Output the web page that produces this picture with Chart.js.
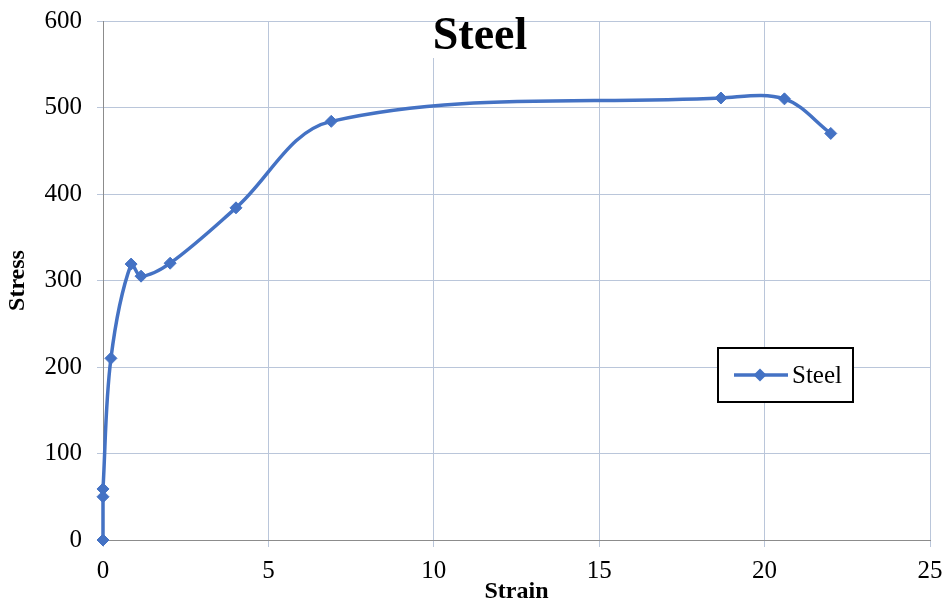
<!DOCTYPE html>
<html>
<head>
<meta charset="utf-8">
<script src="https://cdn.jsdelivr.net/npm/chart.js@4"></script>
<style>
html,body{margin:0;padding:0;background:#fff;}
#wrap{width:945px;height:604px;position:relative;}
</style>
</head>
<body>
<div id="wrap"><canvas id="c" width="945" height="604"></canvas></div>
<script>
const chartTitle = "Steel";
const seriesName = "Steel";
const xTitle = "Strain";
const yTitle = "Stress";
const strain = [0, 0, 0, 0.24, 0.85, 1.15, 2.03, 4.02, 6.9, 18.68, 20.6, 22];
const stress = [0, 50, 59, 210, 319, 305, 320, 384, 484, 511, 510, 470];
const xTicks = [0, 5, 10, 15, 20, 25];
const yTicks = [0, 100, 200, 300, 400, 500, 600];

const FONT = "'Liberation Serif','Times New Roman',serif";
const BLUE = '#4472C4';
const GRID = '#BAC6DA';
const AXIS = '#8C8C8C';

const points = strain.map((x, i) => ({x: x, y: stress[i]}));

const overlay = {
  id: 'overlay',
  afterDraw(chart) {
    const ctx = chart.ctx;
    ctx.save();
    // title
    ctx.fillStyle = '#fff';
    ctx.fillRect(424, 22, 112, 36);
    ctx.fillStyle = '#000';
    ctx.font = "bold 46px " + FONT;
    ctx.textAlign = 'center';
    ctx.textBaseline = 'middle';
    ctx.fillText(chartTitle, 480, 37);
    // legend
    const lx = 718, ly = 348, lw = 135, lh = 54;
    ctx.fillStyle = '#fff';
    ctx.fillRect(lx, ly, lw, lh);
    ctx.strokeStyle = '#000';
    ctx.lineWidth = 2;
    ctx.strokeRect(lx, ly, lw, lh);
    const ds = chart.data.datasets[0];
    const cy = ly + lh / 2;
    ctx.strokeStyle = ds.borderColor;
    ctx.lineWidth = ds.borderWidth;
    ctx.beginPath();
    ctx.moveTo(734, cy);
    ctx.lineTo(788, cy);
    ctx.stroke();
    ctx.fillStyle = ds.pointBackgroundColor;
    ctx.beginPath();
    ctx.moveTo(760, cy - 6.5);
    ctx.lineTo(766.5, cy);
    ctx.lineTo(760, cy + 6.5);
    ctx.lineTo(753.5, cy);
    ctx.closePath();
    ctx.fill();
    ctx.fillStyle = '#000';
    ctx.font = "25px " + FONT;
    ctx.textAlign = 'left';
    ctx.textBaseline = 'middle';
    ctx.fillText(ds.label, 792, cy + 1);
    ctx.restore();
  }
};

new Chart(document.getElementById('c'), {
  type: 'line',
  data: {
    datasets: [{
      label: seriesName,
      data: points,
      borderColor: BLUE,
      backgroundColor: BLUE,
      pointBackgroundColor: BLUE,
      pointBorderColor: BLUE,
      borderWidth: 3.5,
      pointStyle: 'rectRot',
      pointRadius: 6,
      pointBorderWidth: 1,
      tension: 0.35,
      fill: false,
      clip: false
    }]
  },
  options: {
    responsive: false,
    animation: false,
    devicePixelRatio: 1,
    layout: {padding: {top: 21, right: 15, left: 0, bottom: 0}},
    plugins: {
      legend: {display: false},
      title: {display: false},
      tooltip: {enabled: false}
    },
    scales: {
      x: {
        type: 'linear',
        min: 0, max: 25,
        afterBuildTicks(scale) { scale.ticks = xTicks.map(v => ({value: v})); },
        afterFit(scale) { scale.height = 64; scale.paddingLeft = 0; scale.paddingRight = 0; },
        grid: {color: GRID, lineWidth: 1, tickLength: 7, drawTicks: true},
        border: {color: AXIS, width: 1},
        ticks: {color: '#000', font: {family: FONT, size: 25}, padding: 9, maxRotation: 0},
        title: {display: true, text: xTitle, color: '#000', font: {family: FONT, size: 24, weight: 'bold', lineHeight: 1}, padding: {top: 0, bottom: 0}}
      },
      y: {
        type: 'linear',
        min: 0, max: 600,
        afterBuildTicks(scale) { scale.ticks = yTicks.map(v => ({value: v})); },
        afterFit(scale) { scale.width = 103; scale.paddingTop = 0; scale.paddingBottom = 0; },
        grid: {color: GRID, lineWidth: 1, tickLength: 6},
        border: {color: AXIS, width: 1},
        ticks: {color: '#000', font: {family: FONT, size: 25}, padding: 15},
        title: {display: true, text: yTitle, color: '#000', font: {family: FONT, size: 24, weight: 'bold', lineHeight: 1}, padding: {top: 6, bottom: 0}}
      }
    }
  },
  plugins: [overlay]
});
</script>
</body>
</html>
